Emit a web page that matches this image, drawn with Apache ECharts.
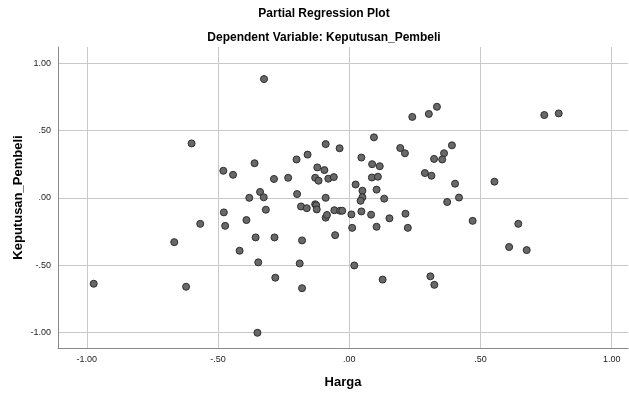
<!DOCTYPE html>
<html>
<head>
<meta charset="utf-8">
<script src="https://cdn.jsdelivr.net/npm/echarts@6/dist/echarts.min.js"></script>
<style>
  html, body { margin: 0; padding: 0; background: #fff; }
  #chart { width: 629px; height: 394px; }
</style>
</head>
<body>
<div id="chart"></div>
<script>
// Partial residuals: Harga (x) against Keputusan_Pembeli (y)
const harga = [
  -0.601, -0.480, -0.443, -0.361, -0.381, -0.325, 0.240, 0.303, 0.334, 0.094,
  -0.090, -0.037, -0.159, -0.201, 0.194, 0.212, 0.046, 0.323, 0.087, 0.116,
  -0.122, -0.095, -0.130, -0.117, -0.080, -0.059, -0.233, -0.287, -0.340, -0.326,
  -0.199, -0.090, 0.024, 0.050, 0.104, 0.086, 0.109, 0.288, 0.313, 0.050,
  0.043, 0.133, 0.743, 0.798, 0.391, 0.361, 0.354, 0.403, 0.553, 0.418,
  0.373, 0.470, 0.644, 0.609, 0.676, -0.318, -0.392, -0.184, -0.162, -0.130,
  -0.126, -0.124, -0.090, -0.085, -0.057, -0.035, -0.027, 0.008, 0.046, 0.083,
  0.153, 0.214, 0.223, 0.104, 0.011, -0.054, -0.180, -0.285, -0.357, -0.418,
  -0.347, -0.189, 0.019, -0.282, -0.180, 0.127, 0.309, 0.324, -0.350, -0.478,
  -0.473, -0.568, -0.667, -0.974, -0.622
];
const keputusan = [
  0.404, 0.201, 0.171, 0.257, 0.000, 0.882, 0.601, 0.623, 0.676, 0.449,
  0.399, 0.368, 0.321, 0.285, 0.370, 0.331, 0.299, 0.289, 0.250, 0.235,
  0.226, 0.206, 0.149, 0.127, 0.142, 0.154, 0.149, 0.140, 0.044, 0.004,
  0.028, 0.000, 0.099, 0.053, 0.061, 0.151, 0.157, 0.184, 0.164, 0.004,
  -0.022, -0.006, 0.615, 0.627, 0.390, 0.331, 0.285, 0.105, 0.120, 0.002,
  -0.031, -0.171, -0.193, -0.365, -0.388, -0.088, -0.165, -0.064, -0.077, -0.048,
  -0.055, -0.086, -0.147, -0.127, -0.092, -0.096, -0.096, -0.123, -0.101, -0.125,
  -0.152, -0.118, -0.223, -0.215, -0.223, -0.277, -0.316, -0.294, -0.294, -0.393,
  -0.479, -0.487, -0.502, -0.593, -0.671, -0.607, -0.583, -0.646, -1.002, -0.108,
  -0.208, -0.193, -0.329, -0.638, -0.660
];
const xTicks = [-1, -0.5, 0, 0.5, 1];
const yTicks = [-1, -0.5, 0, 0.5, 1];

const titleText = 'Partial Regression Plot';
const subtitleText = 'Dependent Variable: Keputusan_Pembeli';
const xName = 'Harga';
const yName = 'Keputusan_Pembeli';

// SPSS-style tick text: 0.50 -> .50, -0.50 -> -.50
function fmt(v) {
  return Number(v).toFixed(2).replace(/^(-?)0\./, '$1.');
}

const FONT = '"Liberation Sans", Arial, sans-serif';
const gridColor = '#c9c9c9';
const axisColor = '#8a8a8a';

const points = harga.map((x, i) => [x, keputusan[i]]);

const chart = echarts.init(document.getElementById('chart'), null, { renderer: 'canvas' });
chart.setOption({
  animation: false,
  backgroundColor: '#ffffff',
  graphic: [
    { type: 'text', x: 324, y: 14,
      style: { text: titleText, textAlign: 'center', textVerticalAlign: 'middle',
               font: 'bold 12px ' + FONT, fill: '#000' } },
    { type: 'text', x: 324, y: 38,
      style: { text: subtitleText, textAlign: 'center', textVerticalAlign: 'middle',
               font: 'bold 12px ' + FONT, fill: '#000' } }
  ],
  grid: { left: 58, right: 1, top: 47, bottom: 43, containLabel: false },
  xAxis: {
    type: 'value', min: -1.11, max: 1.062,
    name: xName, nameLocation: 'middle', nameGap: 28, nameMoveOverlap: false,
    nameTextStyle: { fontFamily: FONT, fontWeight: 'bold', fontSize: 13, color: '#000' },
    axisLine: { show: true, onZero: false, lineStyle: { color: axisColor, width: 1 } },
    axisTick: { show: false, customValues: xTicks },
    axisLabel: { customValues: xTicks, formatter: fmt, fontFamily: FONT, fontSize: 9,
                 color: '#222', margin: 7 },
    splitLine: { show: true, lineStyle: { color: gridColor, width: 1 } }
  },
  yAxis: {
    type: 'value', min: -1.115, max: 1.12,
    name: yName, nameLocation: 'middle', nameGap: 33, nameMoveOverlap: false,
    nameTextStyle: { fontFamily: FONT, fontWeight: 'bold', fontSize: 13, color: '#000' },
    axisLine: { show: true, onZero: false, lineStyle: { color: axisColor, width: 1 } },
    axisTick: { show: false, customValues: yTicks },
    axisLabel: { customValues: yTicks, formatter: fmt, fontFamily: FONT, fontSize: 9,
                 color: '#222', margin: 7 },
    splitLine: { show: true, lineStyle: { color: gridColor, width: 1 } }
  },
  series: [{
    type: 'scatter',
    data: points,
    symbol: 'circle',
    symbolSize: 7,
    itemStyle: { color: '#686868', borderColor: '#2e2e2e', borderWidth: 1, opacity: 1 }
  }]
});
</script>
</body>
</html>
